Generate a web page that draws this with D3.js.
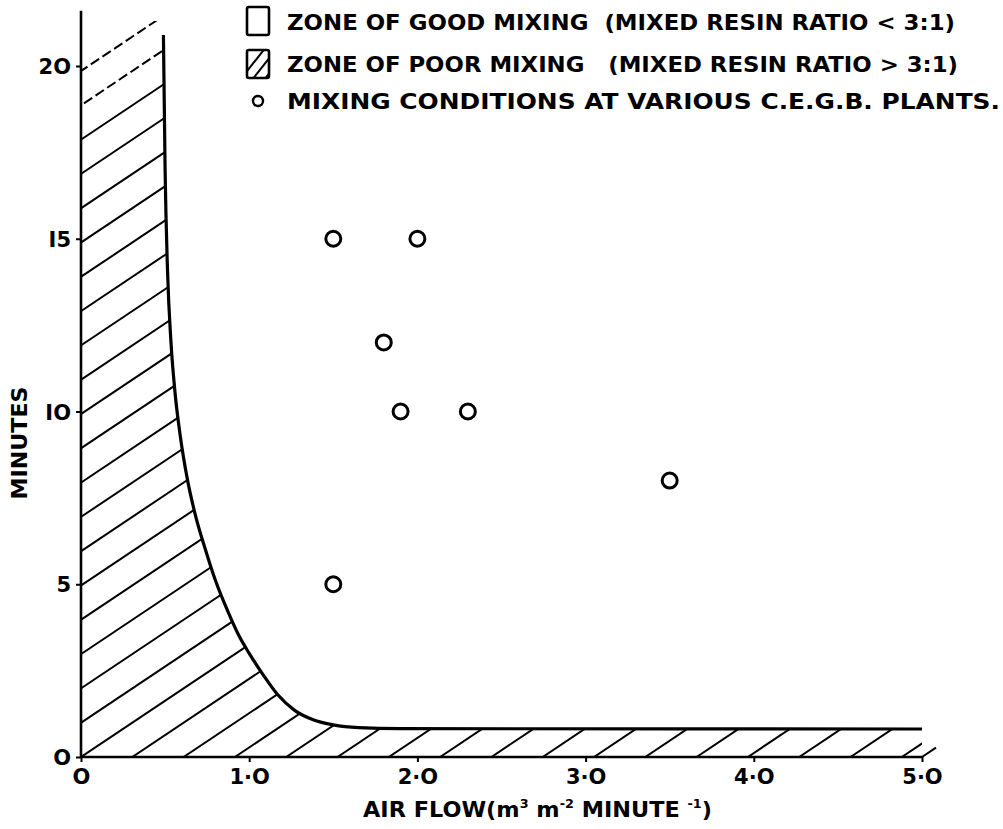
<!DOCTYPE html>
<html><head><meta charset="utf-8">
<script src="https://cdn.jsdelivr.net/npm/d3@7"></script>
<style>
body{margin:0;background:#fff;}
svg{display:block;}
text{font-family:"DejaVu Sans",sans-serif;fill:#000;font-weight:bold;}
</style></head>
<body><svg id="c" width="1003" height="829"></svg>
<script>
// ---- data ----
const plantAirFlow = [1.5, 2.0, 1.8, 1.9, 2.3, 3.5, 1.5];
const plantMinutes = [15, 15, 12, 10, 10, 8, 5];
const boundaryAirFlow = [0.49, 0.50, 0.515, 0.535, 0.56, 0.59, 0.63, 0.68, 0.74, 0.80, 0.87, 0.94, 1.0, 1.08, 1.17, 1.27, 1.38, 1.5, 1.65, 1.9, 5.0];
const boundaryMinutes = [20.9, 17.0, 14.0, 12.0, 10.5, 9.3, 8.1, 7.0, 6.0, 5.1, 4.25, 3.5, 3.0, 2.4, 1.8, 1.35, 1.08, 0.93, 0.85, 0.82, 0.81];
const xTickValues = [0, 1, 2, 3, 4, 5];
const xTickLabels = ["O", "1·O", "2·O", "3·O", "4·O", "5·O"];
const yTickValues = [0, 5, 10, 15, 20];
const yTickLabels = ["O", "5", "IO", "I5", "2O"];
const legendLabels = [
  "ZONE OF GOOD MIXING  (MIXED RESIN RATIO < 3:1)",
  "ZONE OF POOR MIXING   (MIXED RESIN RATIO > 3:1)",
  "MIXING CONDITIONS AT VARIOUS C.E.G.B. PLANTS."
];

const svg = d3.select("#c");
const x = d3.scaleLinear().domain([0, 5]).range([81, 922]);
const y = d3.scaleLinear().domain([0, 20]).range([757, 66]);

const boundary = boundaryAirFlow.map((v, i) => [v, boundaryMinutes[i]]);
const curveLine = d3.line().x(d => x(d[0])).y(d => y(d[1])).curve(d3.curveMonotoneX);

// clip path built from the boundary
const clipD = "M" + x(0) + "," + y(0) + "L" + x(0) + "," + y(21.3) + "L" + x(boundaryAirFlow[0]) + "," + y(21.3) +
  curveLine(boundary).replace(/^M/, "L") +
  "L" + x(5) + "," + y(0) + "Z";
svg.append("clipPath").attr("id", "poor").append("path").attr("d", clipD);

const hatchG = svg.append("g").attr("clip-path", "url(#poor)");
const dx = 51.3, slope = 34.3 / 51.3;
for (let j = -20; j <= 17; j++) {
  const x0 = x(0) + j * dx;
  hatchG.append("line")
    .attr("x1", x0).attr("y1", y(0))
    .attr("x2", x0 + 1200).attr("y2", y(0) - 1200 * slope)
    .attr("stroke", "#000").attr("stroke-width", 2)
    .attr("stroke-dasharray", (j === -20 || j === -19) ? "10,4" : null);
}
// stub beyond the end of the strip
svg.append("line").attr("x1", x(5)).attr("y1", y(0)).attr("x2", x(5) + 14).attr("y2", y(0) - 14 * slope)
  .attr("stroke", "#000").attr("stroke-width", 2);

// boundary curve
svg.append("path")
  .attr("d", curveLine(boundary))
  .attr("fill", "none").attr("stroke", "#000").attr("stroke-width", 3.2);

// ---- axes ----
svg.append("line").attr("x1", x(0)).attr("x2", x(0)).attr("y1", y(0)).attr("y2", y(21.6))
  .attr("stroke", "#000").attr("stroke-width", 2.6);
svg.append("line").attr("x1", x(0)).attr("x2", x(5)).attr("y1", y(0)).attr("y2", y(0))
  .attr("stroke", "#000").attr("stroke-width", 2.6);

const xAxis = d3.axisBottom(x).tickValues(xTickValues).tickSize(5).tickPadding(6)
  .tickFormat((d, i) => xTickLabels[i]);
const gx = svg.append("g").attr("transform", `translate(0,${y(0)})`).call(xAxis);
gx.select(".domain").remove();
gx.selectAll(".tick line").attr("stroke", "#000").attr("stroke-width", 2);
gx.selectAll(".tick text").attr("font-size", 21).attr("dy", "0.78em").attr("fill", "#000")
  .style("font-family", "DejaVu Sans").style("font-weight", "bold");

const yAxis = d3.axisLeft(y).tickValues(yTickValues).tickSize(5).tickPadding(5)
  .tickFormat((d, i) => yTickLabels[i]);
const gy = svg.append("g").attr("transform", `translate(${x(0)},0)`).call(yAxis);
gy.select(".domain").remove();
gy.selectAll(".tick line").attr("stroke", "#000").attr("stroke-width", 2);
gy.selectAll(".tick text").attr("font-size", 21).attr("fill", "#000").attr("dy", "0.36em")
  .style("font-family", "DejaVu Sans").style("font-weight", "bold");

// axis titles
const xt = svg.append("text").attr("x", 363).attr("y", 817).attr("font-size", 21)
  .attr("textLength", 349).attr("lengthAdjust", "spacingAndGlyphs");
xt.append("tspan").text("AIR FLOW(m");
xt.append("tspan").attr("font-size", 12).attr("dy", -9).text("3");
xt.append("tspan").attr("dy", 9).text("  m");
xt.append("tspan").attr("font-size", 12).attr("dy", -9).text("-2");
xt.append("tspan").attr("dy", 9).text(" MINUTE  ");
xt.append("tspan").attr("font-size", 12).attr("dy", -9).text("-1");
xt.append("tspan").attr("dy", 9).text(")");

svg.append("text").attr("transform", "translate(27,443) rotate(-90)")
  .attr("text-anchor", "middle").attr("font-size", 21)
  .attr("textLength", 113).attr("lengthAdjust", "spacingAndGlyphs").text("MINUTES");

// ---- data points ----
svg.append("g").selectAll("circle").data(plantAirFlow).join("circle")
  .attr("cx", d => x(d)).attr("cy", (d, i) => y(plantMinutes[i]))
  .attr("r", 7.5).attr("fill", "#fff").attr("stroke", "#000").attr("stroke-width", 3);

// ---- legend ----
const lg = svg.append("g");
lg.append("rect").attr("x", 247).attr("y", 7).attr("width", 22).attr("height", 28).attr("rx", 2)
  .attr("fill", "#fff").attr("stroke", "#000").attr("stroke-width", 2.6);
svg.append("clipPath").attr("id", "lgc").append("rect").attr("x", 247).attr("y", 50).attr("width", 22).attr("height", 28);
const lh = lg.append("g").attr("clip-path", "url(#lgc)");
[0, 1, 2].forEach(k => {
  const bx = 240 + k * 12;
  lh.append("line").attr("x1", bx).attr("y1", 80).attr("x2", bx + 30).attr("y2", 42)
    .attr("stroke", "#000").attr("stroke-width", 2);
});
lg.append("rect").attr("x", 247).attr("y", 50).attr("width", 22).attr("height", 28).attr("rx", 2)
  .attr("fill", "none").attr("stroke", "#000").attr("stroke-width", 2.6);
lg.append("circle").attr("cx", 258).attr("cy", 101).attr("r", 5).attr("fill", "#fff")
  .attr("stroke", "#000").attr("stroke-width", 2.4);
const lgY = [30, 72, 109];
const lgLen = [668, 671, 713];
legendLabels.forEach((t, i) => {
  lg.append("text").attr("x", 287).attr("y", lgY[i]).attr("font-size", 21)
    .attr("textLength", lgLen[i]).attr("lengthAdjust", "spacingAndGlyphs")
    .attr("xml:space", "preserve").text(t);
});
</script></body></html>
